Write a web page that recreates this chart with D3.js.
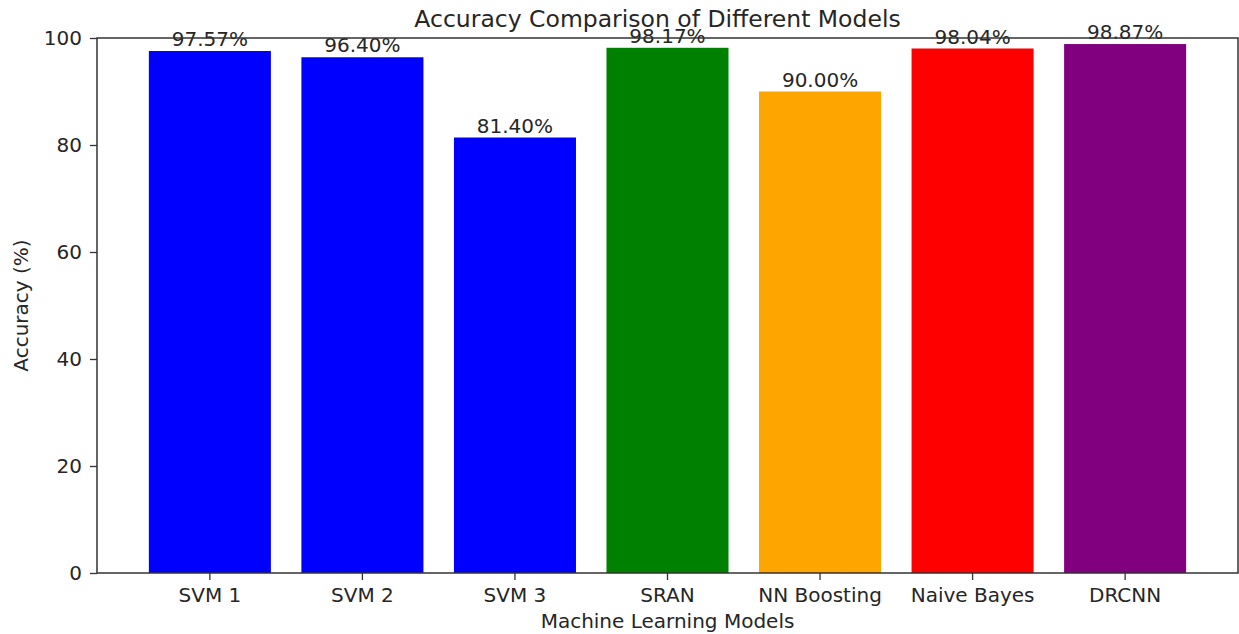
<!DOCTYPE html>
<html>
<head>
<meta charset="utf-8">
<script src="https://cdn.jsdelivr.net/npm/d3@7"></script>
<style>
  body { margin: 0; background: #fff; }
  text { font-family: "DejaVu Sans", sans-serif; fill: #262626; }
</style>
</head>
<body>
<div id="chart"></div>
<script>
var models = ["SVM 1", "SVM 2", "SVM 3", "SRAN", "NN Boosting", "Naive Bayes", "DRCNN"]
var accuracy = [97.57, 96.40, 81.40, 98.17, 90.00, 98.04, 98.87]
var barColors = ["blue", "blue", "blue", "green", "orange", "red", "purple"]
var yTicks = [0, 20, 40, 60, 80, 100]

var W = 1239, H = 634
var margin = { top: 38, right: 1, bottom: 61, left: 97 }
var width = W - margin.left - margin.right
var height = H - margin.top - margin.bottom

var svg = d3.select("#chart").append("svg")
    .attr("width", W)
    .attr("height", H)

var g = svg.append("g")
    .attr("transform", "translate(" + margin.left + "," + margin.top + ")")

var x = d3.scaleBand()
    .domain(models)
    .range([0, width])
    .paddingInner(0.2)
    .paddingOuter(0.34)

var y = d3.scaleLinear()
    .domain([0, 100])
    .range([height, 0])

// bars
g.selectAll(".bar")
    .data(models)
  .enter().append("rect")
    .attr("class", "bar")
    .attr("x", function(d) { return x(d) })
    .attr("width", x.bandwidth())
    .attr("y", function(d, i) { return y(accuracy[i]) })
    .attr("height", function(d, i) { return height - y(accuracy[i]) })
    .attr("fill", function(d, i) { return barColors[i] })

// value labels
g.selectAll(".val")
    .data(models)
  .enter().append("text")
    .attr("class", "val")
    .attr("x", function(d) { return x(d) + x.bandwidth() / 2 })
    .attr("y", function(d, i) { return y(accuracy[i]) - 5 })
    .attr("text-anchor", "middle")
    .style("font-size", "20px")
    .text(function(d, i) { return accuracy[i].toFixed(2) + "%" })

// axes
var xAxis = g.append("g")
    .attr("transform", "translate(0," + height + ")")
    .call(d3.axisBottom(x).tickSize(7).tickPadding(8).tickSizeOuter(0))
var yAxis = g.append("g")
    .call(d3.axisLeft(y).tickValues(yTicks).tickSize(7).tickPadding(8).tickSizeOuter(0))

;[xAxis, yAxis].forEach(function(a) {
  a.select(".domain").remove()
  a.selectAll(".tick line").attr("stroke", "#333").attr("stroke-width", 1.3)
  a.selectAll(".tick text")
    .style("font-size", "20px")
    .style("font-family", "DejaVu Sans, sans-serif")
    .attr("fill", "#262626")
})

// frame
g.append("rect")
    .attr("width", width)
    .attr("height", height)
    .attr("fill", "none")
    .attr("stroke", "#333")
    .attr("stroke-width", 1.5)

// title and axis labels
svg.append("text")
    .attr("x", margin.left + width / 2 - 10)
    .attr("y", 27)
    .attr("text-anchor", "middle")
    .style("font-size", "23.5px")
    .text("Accuracy Comparison of Different Models")

svg.append("text")
    .attr("x", margin.left + width / 2)
    .attr("y", 628)
    .attr("text-anchor", "middle")
    .style("font-size", "20px")
    .text("Machine Learning Models")

svg.append("text")
    .attr("transform", "translate(28," + (margin.top + height / 2) + ") rotate(-90)")
    .attr("text-anchor", "middle")
    .style("font-size", "20px")
    .text("Accuracy (%)")
</script>
</body>
</html>
